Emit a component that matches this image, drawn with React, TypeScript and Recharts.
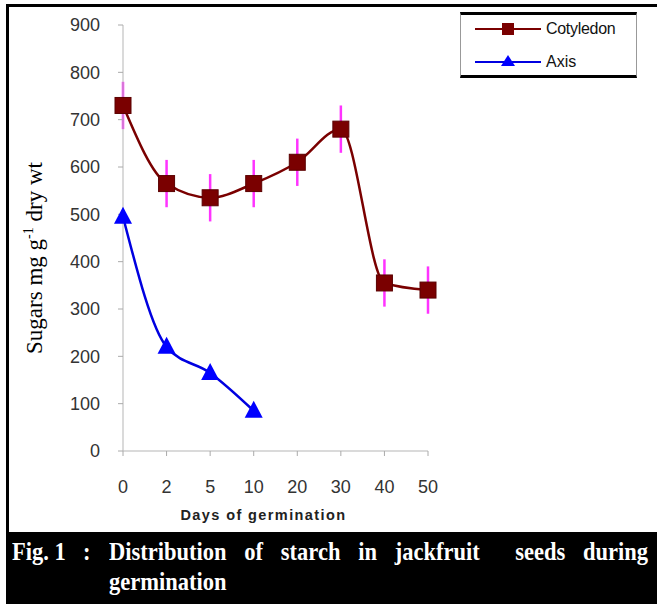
import { LineChart, Line, XAxis, YAxis, ErrorBar } from "recharts";

const days = ["0", "2", "5", "10", "20", "30", "40", "50"];
const cotyledon = [730, 565, 535, 565, 610, 680, 355, 340];
const cotyledonErr = [50, 50, 50, 50, 50, 50, 50, 50];
const axis = [495, 220, 165, 85, null, null, null, null];
const yTicks = [0, 100, 200, 300, 400, 500, 600, 700, 800, 900];

const data = days.map((d, i) => ({
    day: d,
    cotyledon: cotyledon[i],
    err: cotyledonErr[i],
    axis: axis[i],
}));

const SquareDot = (props: any) => {
    const { cx, cy } = props;
    if (cx == null || cy == null) return null;
    return <rect x={cx - 8} y={cy - 8} width={16} height={16} fill="#7a0000" stroke="#5a0000" strokeWidth={1} />;
};

const TriangleDot = (props: any) => {
    const { cx, cy, value } = props;
    if (cx == null || cy == null || value == null) return null;
    return <polygon points={`${cx},${cy - 10} ${cx - 9},${cy + 7} ${cx + 9},${cy + 7}`} fill="#0000ff" />;
};

const LegendBox = () => (
    <div
        style={{
            position: "absolute",
            left: 460,
            top: 12,
            width: 177,
            height: 66,
            boxSizing: "border-box",
            borderTop: "3px solid #000",
            borderBottom: "3px solid #000",
            borderLeft: "1px solid #999",
            borderRight: "1px solid #999",
            background: "#fff",
        }}
    >
        <svg width={175} height={60} style={{ display: "block" }}>
            <g fontFamily="Liberation Sans, Arial, sans-serif" fontSize={16} fill="#111">
                <line x1={14} y1={14} x2={80} y2={14} stroke="#7a0000" strokeWidth={2} />
                <rect x={41} y={8} width={12} height={12} fill="#7a0000" />
                <text x={85} y={19} letterSpacing={-0.3}>Cotyledon</text>
                <line x1={14} y1={47} x2={80} y2={47} stroke="#0000e0" strokeWidth={2} />
                <polygon points="47,40 40,51 54,51" fill="#0000ff" />
                <text x={85} y={52}>Axis</text>
            </g>
        </svg>
    </div>
);

const tickStyle = { fontSize: 18, fill: "#333", fontFamily: "Liberation Sans, Arial, sans-serif" };

const capFont: any = {
    fontFamily: "Liberation Serif, Times New Roman, serif",
    fontWeight: "bold",
    fontSize: 25,
    lineHeight: "30px",
    transformOrigin: "0 0",
    transform: "scaleX(0.9)",
    whiteSpace: "nowrap",
};

export default function App() {
    return (
        <div style={{ position: "absolute", left: 0, top: 0, width: 657, height: 604, background: "#fff" }}>
            <div
                style={{
                    position: "absolute",
                    left: 6,
                    top: 4,
                    width: 651,
                    height: 600,
                    borderTop: "3px solid #000",
                    borderLeft: "3px solid #000",
                    boxSizing: "border-box",
                }}
            />
            <div style={{ position: "absolute", left: 0, top: 0 }}>
                <LineChart width={657} height={532} data={data} margin={{ top: 25, right: 229, left: 63, bottom: 31 }}>
                    <XAxis
                        dataKey="day"
                        padding={{ left: 0, right: 0 }}
                        tick={tickStyle}
                        tickLine={{ stroke: "#aaa" }}
                        tickSize={5}
                        tickMargin={24}
                        axisLine={{ stroke: "#b5b5b5" }}
                        height={50}
                        interval={0}
                        label={{
                            value: "Days of germination",
                            position: "insideBottom",
                            offset: -19,
                            dx: -12,
                            style: {
                                fontSize: 14.5,
                                fontWeight: "bold",
                                letterSpacing: 1.4,
                                fill: "#222",
                                fontFamily: "Liberation Sans, Arial, sans-serif",
                            },
                        }}
                    />
                    <YAxis
                        domain={[0, 900]}
                        ticks={yTicks}
                        interval={0}
                        width={60}
                        tick={tickStyle}
                        tickLine={{ stroke: "#aaa" }}
                        tickSize={5}
                        tickMargin={18}
                        axisLine={{ stroke: "#b5b5b5" }}
                    />
                    <Line
                        type="monotone"
                        dataKey="cotyledon"
                        name="Cotyledon"
                        stroke="#7a0000"
                        strokeWidth={2.5}
                        dot={<SquareDot />}
                        isAnimationActive={false}
                    >
                        <ErrorBar dataKey="err" width={0} stroke="#ff33ff" strokeWidth={2.5} direction="y" />
                    </Line>
                    <Line
                        type="monotone"
                        dataKey="axis"
                        name="Axis"
                        stroke="#0000e0"
                        strokeWidth={2.5}
                        dot={<TriangleDot />}
                        isAnimationActive={false}
                    />
                </LineChart>
            </div>
            <LegendBox />
            <svg style={{ position: "absolute", left: 0, top: 0 }} width={80} height={532}>
                <text
                    transform="translate(42,258) rotate(-90)"
                    textAnchor="middle"
                    fontFamily="Liberation Serif, Times New Roman, serif"
                    fontSize={23}
                    fill="#000"
                >
                    Sugars mg g<tspan dy={-9} fontSize={14}>-1</tspan>
                    <tspan dy={9}> dry wt</tspan>
                </text>
            </svg>
            <div
                style={{
                    position: "absolute",
                    left: 7,
                    top: 532,
                    width: 650,
                    height: 72,
                    background: "#000",
                    color: "#fff",
                    overflow: "hidden",
                }}
            >
                <div style={{ ...capFont, position: "absolute", left: 5, top: 5 }}>Fig. 1</div>
                <div style={{ ...capFont, position: "absolute", left: 76, top: 5 }}>:</div>
                <div style={{ ...capFont, position: "absolute", left: 102, top: 5, width: 599 }}>
                    <div style={{ textAlign: "justify", textAlignLast: "justify" }}>
                        Distribution of starch in jackfruit&nbsp; seeds during
                    </div>
                    <div>germination</div>
                </div>
            </div>
        </div>
    );
}
